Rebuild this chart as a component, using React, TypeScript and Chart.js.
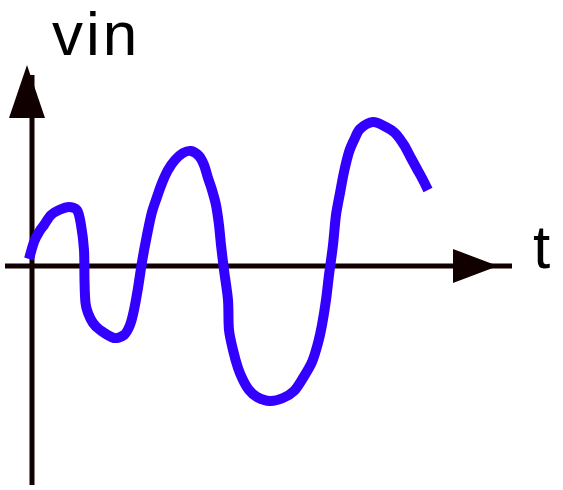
import React, { useEffect, useRef } from "react";
import { Chart, registerables } from "chart.js";

Chart.register(...registerables);

// time (t) and input voltage (vin) samples
const T_VALUES = [
  -0.3, 0.2, 0.7, 1.2, 1.9, 2.7, 3.7, 4.5, 4.9, 5.2, 5.25, 5.35, 5.6, 6.1, 6.8, 8.2, 9.2, 9.8,
  10.2, 10.6, 11.0, 11.5, 12.0, 12.5, 13.0, 13.6, 14.3, 15.1, 15.9, 16.7, 17.2, 17.6, 18.0,
  18.4, 18.7, 18.9, 19.2, 19.6, 19.7, 20.1, 20.6, 21.1, 21.7, 22.5, 23.8, 25.1, 26.2, 27.1,
  28.0, 28.6, 29.0, 29.4, 29.7, 30.1, 30.4, 30.8, 31.2, 31.7, 32.2, 32.8, 34.1, 35.4, 36.3,
  37.2, 37.9, 38.5, 39.1, 39.6,
];
const VIN_VALUES = [
  0.7, 2.4, 3.4, 4.1, 5.1, 5.6, 5.9, 5.6, 4.1, 1.6, -1.4, -3.7, -4.7, -5.7, -6.4, -7.2, -6.9, -5.9,
  -4.4, -2.2, 0.4, 3.1, 5.4, 6.9, 8.3, 9.6, 10.6, 11.3, 11.5, 11.0, 10.1, 8.8, 7.6,
  6.1, 4.1, 2.1, -0.4, -3.4, -6.4, -8.4, -10.2, -11.4, -12.4, -13.1, -13.5, -13.2, -12.5, -11.2,
  -9.6, -7.7, -5.9, -3.4, -0.9, 2.1, 5.1, 7.3, 9.4, 11.4, 12.6, 13.7, 14.4, 13.9, 13.3,
  12.1, 10.8, 9.7, 8.6, 7.6,
];

// axis extents and view window
const T_AXIS = [-2.7, 48.0];
const VIN_AXIS = [-21.9, 20.1];
const T_VIEW = [-3.2, 53.1];
const VIN_VIEW = [-22.4, 26.6];
const Y_LABEL = "vin";
const X_LABEL = "t";

const AXIS_COLOR = "#110000";
const LINE_COLOR = "#3300ff";

const axesPlugin = {
  id: "sketchAxes",
  beforeDatasetsDraw(chart: any) {
    const { ctx, scales } = chart;
    const xs = scales.x;
    const ys = scales.y;
    const x0 = xs.getPixelForValue(0);
    const y0 = ys.getPixelForValue(0);
    const xLeft = xs.getPixelForValue(T_AXIS[0]);
    const xRight = xs.getPixelForValue(T_AXIS[1]);
    const yTop = ys.getPixelForValue(VIN_AXIS[1]);
    const yBottom = ys.getPixelForValue(VIN_AXIS[0]);
    ctx.save();
    ctx.strokeStyle = AXIS_COLOR;
    ctx.fillStyle = AXIS_COLOR;
    ctx.lineWidth = 5;
    ctx.lineCap = "butt";
    // horizontal axis
    ctx.beginPath();
    ctx.moveTo(xLeft, y0);
    ctx.lineTo(xRight, y0);
    ctx.stroke();
    // vertical axis
    ctx.beginPath();
    ctx.moveTo(x0, yTop + 10);
    ctx.lineTo(x0, yBottom);
    ctx.stroke();
    // up arrow
    const ax = x0 - 5;
    ctx.beginPath();
    ctx.moveTo(ax, yTop);
    ctx.lineTo(ax + 18, yTop + 53);
    ctx.lineTo(ax - 18, yTop + 53);
    ctx.closePath();
    ctx.fill();
    // right arrow
    const tip = xRight - 14;
    ctx.beginPath();
    ctx.moveTo(tip, y0);
    ctx.lineTo(tip - 45, y0 - 17);
    ctx.lineTo(tip - 45, y0 + 17);
    ctx.closePath();
    ctx.fill();
    ctx.restore();
  },
  afterDraw(chart: any) {
    const { ctx, scales } = chart;
    const x0 = scales.x.getPixelForValue(0);
    const y0 = scales.y.getPixelForValue(0);
    ctx.save();
    ctx.fillStyle = "#000000";
    ctx.font = "62px 'Liberation Sans', sans-serif";
    ctx.textBaseline = "alphabetic";
    ctx.textAlign = "left";
    try {
      (ctx as any).letterSpacing = "3px";
    } catch (e) {}
    ctx.fillText(Y_LABEL, x0 + 20, 55);
    try {
      (ctx as any).letterSpacing = "0px";
    } catch (e) {}
    ctx.fillText(X_LABEL, chart.width - 30, y0 + 2);
    ctx.restore();
  },
};

export default function App() {
  const ref = useRef<HTMLCanvasElement | null>(null);
  useEffect(() => {
    if (!ref.current) return;
    const chart = new Chart(ref.current, {
      type: "line",
      data: {
        datasets: [
          {
            data: T_VALUES.map((t, i) => ({ x: t, y: VIN_VALUES[i] })),
            borderColor: LINE_COLOR,
            borderWidth: 10,
            pointRadius: 0,
            tension: 0.3,
            fill: false,
          },
        ],
      },
      options: {
        animation: false,
        responsive: false,
        maintainAspectRatio: false,
        layout: { padding: 0 },
        plugins: { legend: { display: false }, tooltip: { enabled: false }, title: { display: false } },
        scales: {
          x: { type: "linear", display: false, min: T_VIEW[0], max: T_VIEW[1] },
          y: { type: "linear", display: false, min: VIN_VIEW[0], max: VIN_VIEW[1] },
        },
      },
      plugins: [axesPlugin],
    });
    return () => chart.destroy();
  }, []);
  return (
    <div style={{ position: "absolute", left: 0, top: 0, width: 563, height: 490, background: "#fff" }}>
      <canvas ref={ref} width={563} height={490} style={{ display: "block" }} />
    </div>
  );
}
